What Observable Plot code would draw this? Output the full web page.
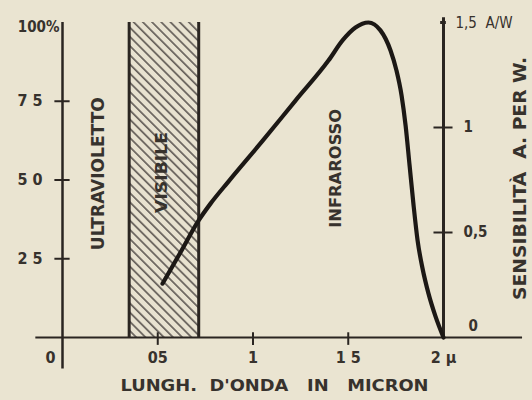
<!DOCTYPE html>
<html>
<head>
<meta charset="utf-8">
<script src="https://cdn.jsdelivr.net/npm/d3@7"></script>
<script src="https://cdn.jsdelivr.net/npm/@observablehq/plot@0.6"></script>
<style>
  html, body { margin: 0; padding: 0; background: #eae4d1; }
  #chart svg { display: block; }
</style>
</head>
<body>
<div id="chart"></div>
<script>
// ---- data ----
const wavelength  = [0.525, 0.619, 0.714, 0.777, 0.871, 1.05, 1.223, 1.396, 1.47, 1.538, 1.606, 1.669, 1.722, 1.753, 1.780, 1.801, 1.822, 1.843, 1.864, 1.890, 1.921, 1.958, 2.0];
const sensitivity = [17.1, 27.0, 37.1, 42.5, 49.5, 62.4, 75.2, 87.9, 94.3, 98.4, 100, 97.5, 91.1, 84.8, 76.8, 67.3, 54.6, 41.9, 30.8, 21.9, 14.0, 6.7, 0];
const visibleBand = [0.35, 0.715];
const leftTicks = [25, 50, 75];
const leftTickLabels = ["2 5", "5 0", "7 5"];
const xTicks = [0.5, 1, 1.5];
const xTickLabels = ["05", "1", "1 5", "2 µ"];
const xLabelValues = [0.5, 1, 1.5, 2];
const rightTicks = [0.5, 1];           // A/W
const rightTickLabels = ["0,5", "1"];
const rightMax = 1.5;                  // A/W at 100 %

const curve = wavelength.map((w, i) => ({w, s: sensitivity[i]}));
const toPct = v => v * 100 / rightMax;

const ink = "#37322d";
const font = "'DejaVu Sans Condensed', 'DejaVu Sans', sans-serif";

const svg = Plot.plot({
  width: 532,
  height: 400,
  marginLeft: 62,
  marginRight: 89,
  marginTop: 22,
  marginBottom: 63,
  x: {domain: [0, 2], axis: null},
  y: {domain: [0, 100], axis: null},
  style: {background: "#eae4d1", fontFamily: font, fontWeight: "bold", overflow: "visible"},
  marks: [
    // visible band, hatched
    Plot.rect([visibleBand], {x1: d => d[0], x2: d => d[1], y1: 0, y2: 100, fill: "url(#hatch)"}),
    Plot.ruleX(visibleBand, {y1: 0, y2: 100, stroke: "#2a2521", strokeWidth: 3}),
    // left axis
    Plot.ruleX([0], {y1: -10, y2: 100, stroke: "#2a2521", strokeWidth: 2.5}),
    Plot.ruleY(leftTicks, {x1: -0.04, x2: 0.04, stroke: "#2a2521", strokeWidth: 2}),
    // right axis
    Plot.ruleX([2], {y1: 0, y2: 101.5, stroke: "#2a2521", strokeWidth: 3}),
    Plot.ruleY(rightTicks.map(toPct), {x1: 1.95, x2: 2.05, stroke: "#2a2521", strokeWidth: 2}),
    Plot.ruleY([toPct(rightMax)], {x1: 1.985, x2: 2.015, stroke: "#2a2521", strokeWidth: 3}),
    // baseline
    Plot.ruleY([0], {x1: -0.14, x2: 2.415, stroke: "#2a2521", strokeWidth: 2}),
    Plot.ruleX(xTicks, {y1: -2.5, y2: 1.5, stroke: "#2a2521", strokeWidth: 2}),
    // curve
    Plot.line(curve, {x: "w", y: "s", curve: "monotone-x", stroke: "#1c1815", strokeWidth: 4.2, strokeLinecap: "round", strokeLinejoin: "round"}),
    // left labels
    Plot.text(leftTicks, {x: 0, y: d => d, text: (d, i) => leftTickLabels[i], textAnchor: "end", dx: -20, fontSize: 16, fill: ink}),
    Plot.text(["100%"], {x: 0, y: 100, textAnchor: "end", dx: -3, dy: 5, fontSize: 15, fill: ink}),
    // x labels
    Plot.text(xLabelValues, {x: d => d, y: 0, text: (d, i) => xTickLabels[i], dy: 20, fontSize: 16, fill: ink}),
    Plot.text(["0"], {x: 0, y: 0, dx: -12, dy: 20, fontSize: 16, fill: ink}),
    // right labels
    Plot.text(rightTicks.map(toPct), {x: 2, y: d => d, text: (d, i) => rightTickLabels[i], textAnchor: "start", dx: 20, fontSize: 15, fill: ink}),
    Plot.text(["1,5  A/W"], {x: 2, y: toPct(rightMax), textAnchor: "start", dx: 12, dy: 1, fontSize: 15, fontWeight: "normal", fill: ink}),
    Plot.text(["0"], {x: 2, y: 0, textAnchor: "start", dx: 25, dy: -11, fontSize: 15, fill: ink}),
    // region labels
    Plot.text(["ULTRAVIOLETTO"], {x: 0.189, y: 52, rotate: -90, fontSize: 17, fill: ink}),
    Plot.text(["VISIBILE"], {x: 0.52, y: 52.4, rotate: -90, fontSize: 16, fill: ink}),
    Plot.text(["INFRAROSSO"], {x: 1.433, y: 53.7, rotate: -90, fontSize: 16, fill: ink}),
    Plot.text(["SENSIBILITÀ  A. PER W."], {x: 2.404, y: 50.5, rotate: -90, fontSize: 17, fill: ink}),
    // x title
    Plot.text(["LUNGH.  D'ONDA   IN   MICRON"], {x: 1.113, y: -15.2, fontSize: 16, fill: ink})
  ]
});

// hatch pattern for the visible band
const ns = "http://www.w3.org/2000/svg";
const defs = document.createElementNS(ns, "defs");
const pat = document.createElementNS(ns, "pattern");
pat.setAttribute("id", "hatch");
pat.setAttribute("patternUnits", "userSpaceOnUse");
pat.setAttribute("width", "6.5");
pat.setAttribute("height", "6.5");
pat.setAttribute("patternTransform", "rotate(-45)");
const bg = document.createElementNS(ns, "rect");
bg.setAttribute("width", "6.5"); bg.setAttribute("height", "6.5"); bg.setAttribute("fill", "#e8e2d0");
const ln = document.createElementNS(ns, "rect");
ln.setAttribute("width", "1.7"); ln.setAttribute("height", "6.5"); ln.setAttribute("fill", "#66605a");
pat.appendChild(bg); pat.appendChild(ln);
defs.appendChild(pat);
svg.insertBefore(defs, svg.firstChild);

// spread the long labels to their lengths in the reference
const lengths = {"ULTRAVIOLETTO": 153, "VISIBILE": 81, "INFRAROSSO": 119, "SENSIBILITÀ  A. PER W.": 243, "LUNGH.  D'ONDA   IN   MICRON": 308};
svg.querySelectorAll("text").forEach(t => {
  const L = lengths[t.textContent];
  if (L) { t.setAttribute("textLength", L); t.setAttribute("lengthAdjust", "spacingAndGlyphs"); }
});

document.getElementById("chart").appendChild(svg);
</script>
</body>
</html>
